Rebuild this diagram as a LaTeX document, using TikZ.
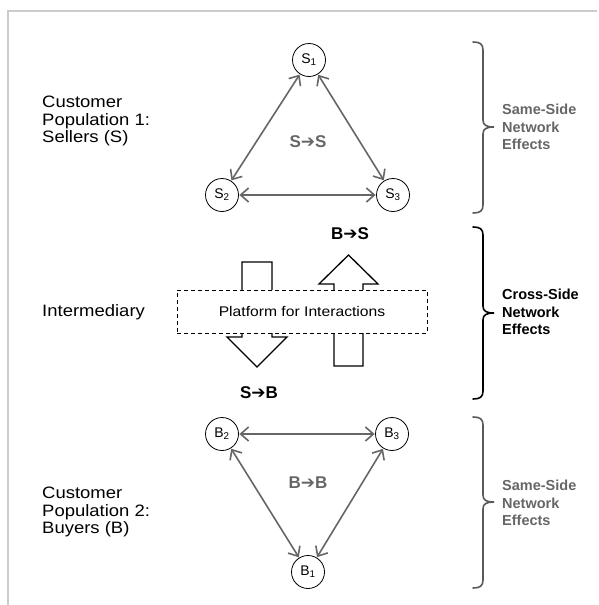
\documentclass[tikz,border=0pt]{standalone}
\usepackage{fontspec}
\setmainfont{Liberation Sans}
\newfontfamily\dejavu{DejaVu Sans}
\newfontfamily\widefont[FakeStretch=1.12]{Liberation Sans}
\usetikzlibrary{arrows.meta}
\definecolor{tgray}{HTML}{666666}
\definecolor{bgray}{HTML}{595959}
\definecolor{frame}{HTML}{CCCCCC}
\newcommand{\myarr}{{\dejavu ➔}}
\begin{document}
\begin{tikzpicture}[x=1pt,y=-1pt,
  pnode/.style={circle,draw,line width=0.8pt,minimum size=33pt,inner sep=0pt,font=\fontsize{14}{16}\selectfont},
  link/.style={draw=tgray,line width=1.6pt,{Straight Barb[length=8pt,width=14pt]}-{Straight Barb[length=8pt,width=14pt]},shorten <=0.5pt,shorten >=0.5pt},
  sidelabel/.style={align=left,anchor=west,font=\widefont\fontsize{16.5}{17.5}\selectfont,inner sep=0pt},
  efflabel/.style={align=left,anchor=west,font=\bfseries\fontsize{14.5}{17.4}\selectfont,inner sep=0pt},
  flowlabel/.style={font=\bfseries\fontsize{17}{20}\selectfont,inner sep=0pt},
  blockarrow/.style={draw=black,fill=white,line width=1.3pt,line join=miter},
  bracestyle/.style={line width=1.6pt,line cap=round}
]
\useasboundingbox (0,0) rectangle (598,605);
% frame
\draw[frame,line width=1.5pt] (8,605) -- (8,11) -- (597,11);

% sellers
\node[pnode] (s1) at (309,60) {S\textsubscript{1}};
\node[pnode] (s2) at (222,195) {S\textsubscript{2}};
\node[pnode] (s3) at (393,195) {S\textsubscript{3}};
\draw[link] (s1) -- (s2);
\draw[link] (s1) -- (s3);
\draw[link] (s2) -- (s3);
\node[flowlabel,text=tgray] (ss) at (308,142) {S\myarr S};

% buyers
\node[pnode] (b2) at (222,434) {B\textsubscript{2}};
\node[pnode] (b3) at (392,434) {B\textsubscript{3}};
\node[pnode] (b1) at (308,572) {B\textsubscript{1}};
\draw[link] (b2) -- (b3);
\draw[link] (b2) -- (b1);
\draw[link] (b3) -- (b1);
\node[flowlabel,text=tgray] (bb) at (308,483) {B\myarr B};

% block arrows
\draw[blockarrow] (242,262) -- (272,262) -- (272,337) -- (287,337) -- (257,367) -- (227,337) -- (242,337) -- cycle;
\draw[blockarrow] (334,366) -- (363,366) -- (363,284) -- (378,284) -- (348.5,255) -- (319,284) -- (334,284) -- cycle;
\node[draw,dashed,dash pattern=on 4pt off 3pt,line width=0.9pt,fill=white,minimum width=250pt,minimum height=43pt,inner sep=0pt,font=\widefont\fontsize{14}{17}\selectfont] (plat) at (302,311.5) {Platform for Interactions};
\node[flowlabel] (bs) at (350,234) {B\myarr S};
\node[flowlabel] (sb) at (259,393) {S\myarr B};

% left labels
\node[sidelabel] (pop1) at (42,121) {Customer\\Population 1:\\Sellers (S)};
\node[sidelabel] (inter) at (42,312) {Intermediary};
\node[sidelabel] (pop2) at (42,512) {Customer\\Population 2:\\Buyers (B)};

% braces
\draw[bracestyle,bgray] (473,42) .. controls (480,42) and (483,44) .. (483,50) -- (483,120) .. controls (483,125) and (486,127) .. (494,127) .. controls (486,127) and (483,129) .. (483,134) -- (483,205) .. controls (483,211) and (480,213) .. (473,213);
\draw[bracestyle,black] (473,227) .. controls (480,227) and (483,229) .. (483,235) -- (483,306) .. controls (483,311) and (486,313) .. (494,313) .. controls (486,313) and (483,315) .. (483,320) -- (483,391) .. controls (483,397) and (480,399) .. (473,399);
\draw[bracestyle,bgray] (473,417) .. controls (480,417) and (483,419) .. (483,425) -- (483,495) .. controls (483,500) and (486,502) .. (494,502) .. controls (486,502) and (483,504) .. (483,509) -- (483,580) .. controls (483,586) and (480,588) .. (473,588);

\node[efflabel,text=tgray] (same1) at (502,127) {Same-Side\\Network\\Effects};
\node[efflabel] (cross) at (502,312) {Cross-Side\\Network\\Effects};
\node[efflabel,text=tgray] (same2) at (502,503) {Same-Side\\Network\\Effects};
\end{tikzpicture}
\end{document}
